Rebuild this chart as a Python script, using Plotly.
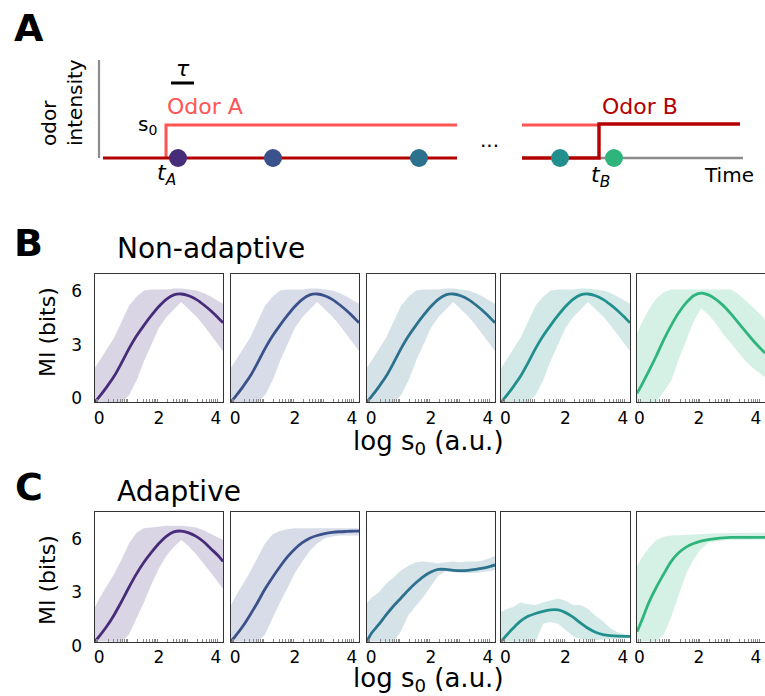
import math
import plotly.graph_objects as go

W, H = 765, 696
FONT = "DejaVu Sans"

# ---------------- data ----------------
log_s0 = [-0.15, 0.0, 0.25, 0.5, 0.75, 1.0, 1.25, 1.5, 1.75, 2.0,
          2.25, 2.5, 2.75, 3.0, 3.25, 3.5, 3.75, 4.0, 4.15]

# B: non-adaptive (panels 1-4 look identical, panel 5 is shifted)
nonadapt_mean_1 = [0.0, 0.3, 0.85, 1.45, 2.2, 3.0, 3.7, 4.3, 4.85, 5.35, 5.75, 6.0, 6.05, 5.95, 5.75, 5.45, 5.1, 4.7, 4.45]
nonadapt_upper_1 = [1.9, 2.3, 2.9, 3.6, 4.5, 5.4, 5.9, 6.25, 6.3, 6.3, 6.3, 6.35, 6.35, 6.3, 6.25, 6.1, 5.9, 5.65, 5.5]
nonadapt_lower_1 = [0.0, 0.0, 0.0, 0.0, 0.0, 0.4, 1.2, 2.3, 3.2, 4.15, 4.75, 5.2, 5.6, 5.2, 4.8, 4.3, 3.75, 3.2, 2.85]
nonadapt_mean_5 = [0.5, 0.95, 1.75, 2.6, 3.5, 4.3, 5.0, 5.55, 5.95, 6.1, 6.0, 5.75, 5.4, 4.95, 4.45, 3.95, 3.45, 3.0, 2.75]
nonadapt_upper_5 = [3.85, 4.4, 5.2, 5.8, 6.15, 6.3, 6.3, 6.3, 6.3, 6.3, 6.3, 6.3, 6.3, 6.3, 6.05, 5.7, 5.3, 4.9, 4.6]
nonadapt_lower_5 = [0.0, 0.0, 0.0, 0.0, 0.6, 1.2, 2.4, 3.5, 4.5, 5.25, 4.9, 4.4, 3.8, 3.3, 2.8, 2.3, 1.9, 1.6, 1.4]

# C: adaptive
adapt_mean_1 = [0.0, 0.3, 0.85, 1.5, 2.25, 3.05, 3.8, 4.45, 5.0, 5.5, 5.9, 6.15, 6.2, 6.1, 5.9, 5.6, 5.2, 4.8, 4.5]
adapt_upper_1 = [1.9, 2.4, 3.1, 3.8, 4.6, 5.5, 6.1, 6.35, 6.4, 6.45, 6.5, 6.5, 6.5, 6.45, 6.4, 6.25, 6.05, 5.85, 5.7]
adapt_lower_1 = [0.0, 0.0, 0.0, 0.0, 0.0, 0.4, 1.3, 2.2, 3.2, 4.1, 4.8, 5.3, 5.7, 5.35, 4.9, 4.4, 3.85, 3.3, 2.95]

adapt_mean_2 = [0.0, 0.3, 0.85, 1.5, 2.2, 2.95, 3.6, 4.2, 4.75, 5.2, 5.55, 5.8, 5.95, 6.05, 6.12, 6.16, 6.18, 6.2, 6.2]
adapt_upper_2 = [2.0, 2.5, 3.2, 3.9, 4.7, 5.5, 6.0, 6.2, 6.3, 6.35, 6.35, 6.35, 6.35, 6.35, 6.35, 6.35, 6.35, 6.35, 6.35]
adapt_lower_2 = [0.0, 0.0, 0.0, 0.0, 0.0, 0.4, 1.3, 2.2, 3.0, 3.85, 4.5, 5.1, 5.5, 5.8, 5.9, 5.95, 5.95, 5.95, 5.95]

adapt_mean_3 = [0.0, 0.45, 0.95, 1.5, 2.0, 2.45, 2.9, 3.3, 3.65, 3.9, 4.05, 4.05, 4.0, 3.98, 4.0, 4.05, 4.12, 4.22, 4.3]
adapt_upper_3 = [2.15, 2.45, 2.75, 3.25, 3.6, 4.0, 4.25, 4.45, 4.5, 4.45, 4.4, 4.45, 4.5, 4.45, 4.5, 4.5, 4.55, 4.7, 4.8]
adapt_lower_3 = [0.0, 0.0, 0.0, 0.0, 0.0, 0.6, 1.5, 2.0, 2.5, 3.1, 3.7, 3.95, 3.9, 3.85, 3.85, 3.85, 3.9, 3.95, 4.0]

adapt_mean_4 = [0.0, 0.3, 0.75, 1.15, 1.42, 1.58, 1.7, 1.78, 1.78, 1.63, 1.38, 1.05, 0.75, 0.53, 0.4, 0.34, 0.31, 0.3, 0.3]
adapt_upper_4 = [1.68, 1.8, 1.95, 2.2, 2.1, 2.05, 2.2, 2.3, 2.42, 2.3, 2.05, 2.05, 1.85, 1.45, 1.15, 0.75, 0.52, 0.42, 0.38]
adapt_lower_4 = [0.0, 0.0, 0.0, 0.0, 0.0, 0.0, 1.0, 1.1, 1.0, 0.65, 0.3, 0.15, 0.1, 0.1, 0.12, 0.13, 0.15, 0.18, 0.2]

adapt_mean_5 = [0.56, 1.15, 2.2, 3.05, 3.8, 4.5, 4.98, 5.3, 5.5, 5.63, 5.72, 5.78, 5.82, 5.84, 5.85, 5.85, 5.85, 5.85, 5.85]
adapt_upper_5 = [4.2, 4.7, 5.25, 5.7, 5.88, 5.95, 5.97, 6.0, 6.02, 6.05, 6.05, 6.07, 6.08, 6.1, 6.1, 6.1, 6.1, 6.1, 6.1]
adapt_lower_5 = [0.0, 0.0, 0.0, 0.0, 0.4, 1.4, 2.6, 3.8, 4.6, 5.2, 5.55, 5.62, 5.68, 5.7, 5.7, 5.72, 5.72, 5.72, 5.72]

colors = ["#472c7a", "#3b518b", "#2c718e", "#21908d", "#2fb47c"]

x_ticks = [0, 2, 4]
x_ticktext = ["0", "2", "4\u00a0"]
x_ticktext_last = ["0", "2", "4\u00a0"]
y_ticks = [0, 3, 6]

# schematic (panel A) in screen-like units of its own axis
axis_line_x = [99, 99]
axis_line_y = [60, 158]
odorA_x = [166, 166, 457]
odorA_y = [158, 125, 125]
odorA2_x = [522, 599]
odorA2_y = [125, 125]
base_x = [103, 457]
base_y = [158, 158]
odorB_x = [522, 599, 599, 740]
odorB_y = [158, 158, 124, 124]
grey_tail_x = [599, 743]
grey_tail_y = [158, 158]
tau_x = [171, 194]
tau_y = [83, 83]
dot_times = [178, 273, 419, 560, 614]
dot_level = [158, 158, 158, 158, 158]

# ---------------- layout geometry (pixels) ----------------
col_left = [94.7, 230.7, 366.7, 501.0, 637.0]
col_right = [223.0, 359.0, 495.0, 630.0, 765.0]
row_B = (274.3, 402.3)
row_C = (512.3, 641.7)


def px(x):
    return x / W


def py(y):
    return 1 - y / H


def rgba(hexc, a):
    h = hexc.lstrip("#")
    r, g, b = int(h[0:2], 16), int(h[2:4], 16), int(h[4:6], 16)
    return f"rgba({r},{g},{b},{a})"


minor_vals = [k + math.log10(m) for k in range(-1, 5) for m in range(2, 10)
              if -0.15 < k + math.log10(m) < 4.15]

fig = go.Figure()
layout_axes = {}

panels = [
    (row_B, [(nonadapt_mean_1, nonadapt_upper_1, nonadapt_lower_1)] * 4
     + [(nonadapt_mean_5, nonadapt_upper_5, nonadapt_lower_5)], [0, 7.15], -4),
    (row_C, [(adapt_mean_1, adapt_upper_1, adapt_lower_1),
             (adapt_mean_2, adapt_upper_2, adapt_lower_2),
             (adapt_mean_3, adapt_upper_3, adapt_lower_3),
             (adapt_mean_4, adapt_upper_4, adapt_lower_4),
             (adapt_mean_5, adapt_upper_5, adapt_lower_5)], [0, 7.25], 4),
]

idx = 0
for (rtop, rbot), series, yr, shift in panels:
    for c in range(5):
        idx += 1
        xa = "x" if idx == 1 else f"x{idx}"
        ya = "y" if idx == 1 else f"y{idx}"
        mean, up, lo = series[c]
        col = colors[c]
        fig.add_trace(go.Scatter(x=log_s0, y=lo, mode="lines", line=dict(width=0, color=col),
                                 xaxis=xa, yaxis=ya, hoverinfo="skip"))
        fig.add_trace(go.Scatter(x=log_s0, y=up, mode="lines", line=dict(width=0, color=col),
                                 fill="tonexty", fillcolor=rgba(col, 0.2),
                                 xaxis=xa, yaxis=ya, hoverinfo="skip"))
        fig.add_trace(go.Scatter(x=log_s0, y=mean, mode="lines",
                                 line=dict(width=2.8, color=col, shape="spline", smoothing=0.8),
                                 xaxis=xa, yaxis=ya, cliponaxis=True))
        xname = "xaxis" if idx == 1 else f"xaxis{idx}"
        yname = "yaxis" if idx == 1 else f"yaxis{idx}"
        layout_axes[xname] = dict(
            domain=[px(col_left[c]), px(col_right[c])], anchor=ya,
            range=[-0.15, 4.15], tickmode="array", tickvals=x_ticks,
            ticktext=(x_ticktext_last if c == 4 else x_ticktext),
            ticklabeloverflow="allow", ticklabelshift=(-2 if c == 4 else 0),
            ticks="", showgrid=False, zeroline=False,
            showline=True, linecolor="#333", linewidth=1.2, mirror=True,
            tickfont=dict(family=FONT, size=17, color="black"),
            minor=dict(tickvals=minor_vals, ticks="inside", ticklen=3, tickcolor="#888", tickwidth=1),
        )
        layout_axes[yname] = dict(
            domain=[py(rbot), py(rtop)], anchor=xa,
            range=yr, tickvals=y_ticks, ticks="", showgrid=False, zeroline=False,
            showline=True, linecolor="#333", linewidth=1.2, mirror=(c < 4),
            showticklabels=(c == 0), ticklabelshift=shift, ticklabelstandoff=8,
            tickfont=dict(family=FONT, size=17, color="black"),
        )

# ---------------- schematic (panel A) ----------------
sx, sy = "x11", "y11"
layout_axes["xaxis11"] = dict(domain=[0, 1], range=[0, W], visible=False, anchor=sy, fixedrange=True)
layout_axes["yaxis11"] = dict(domain=[0, 1], range=[H, 0], visible=False, anchor=sx, fixedrange=True)

def seg(xs, ys, color, width):
    fig.add_trace(go.Scatter(x=xs, y=ys, mode="lines", line=dict(color=color, width=width),
                             xaxis=sx, yaxis=sy, hoverinfo="skip", cliponaxis=False))

seg(axis_line_x, axis_line_y, "#8c8c8c", 2.2)
seg(grey_tail_x, grey_tail_y, "#8c8c8c", 2.6)
seg(odorA_x, odorA_y, "#ff5555", 3)
seg(odorA2_x, odorA2_y, "#ff5555", 3)
seg(base_x, base_y, "#b20000", 3)
seg(odorB_x, odorB_y, "#b20000", 3.4)
seg(tau_x, tau_y, "black", 3)
fig.add_trace(go.Scatter(x=dot_times, y=dot_level, mode="markers",
                         marker=dict(size=18, color=colors, line=dict(width=0)),
                         xaxis=sx, yaxis=sy, hoverinfo="skip", cliponaxis=False))

# ---------------- annotations ----------------
def ann(text, x, y, size, color="black", **kw):
    d = dict(text=text, x=px(x), y=py(y), xref="paper", yref="paper", showarrow=False,
             font=dict(family=FONT, size=size, color=color), xanchor="center", yanchor="middle")
    d.update(kw)
    return d

annotations = [
    ann("<b>A</b>", 29, 28, 38),
    ann("<b>B</b>", 29, 243, 38),
    ann("<b>C</b>", 29, 487, 38),
    ann("odor<br>intensity", 62, 103, 20, textangle=-90, align="left"),
    ann("<i>τ</i>", 183, 68, 22),
    ann("Odor A", 205, 106, 22, color="#ff5555"),
    ann("s<sub>0</sub>", 147, 125, 20),
    ann("<i>t</i><sub><i>A</i></sub>", 166, 175, 22),
    ann("...", 490, 140, 20),
    ann("Odor B", 640, 106, 22, color="#b20000"),
    ann("<i>t</i><sub><i>B</i></sub>", 600, 176, 22),
    ann("Time", 729, 175, 20),
    ann("Non-adaptive", 115, 248, 28, xanchor="left"),
    ann("Adaptive", 115, 491, 28, xanchor="left"),
    ann("MI (bits)", 47, 332, 22, textangle=-90),
    ann("MI (bits)", 47, 580, 22, textangle=-90),
    ann("log s<sub>0</sub> (a.u.)", 428, 442, 26),
    ann("log s<sub>0</sub> (a.u.)", 428, 679, 26),
]

fig.update_layout(
    width=W, height=H, margin=dict(l=0, r=0, t=0, b=0, autoexpand=False),
    paper_bgcolor="white", plot_bgcolor="rgba(0,0,0,0)",
    showlegend=False, annotations=annotations,
    font=dict(family=FONT, color="black"),
    **layout_axes,
)

fig.write_html("out.html")
